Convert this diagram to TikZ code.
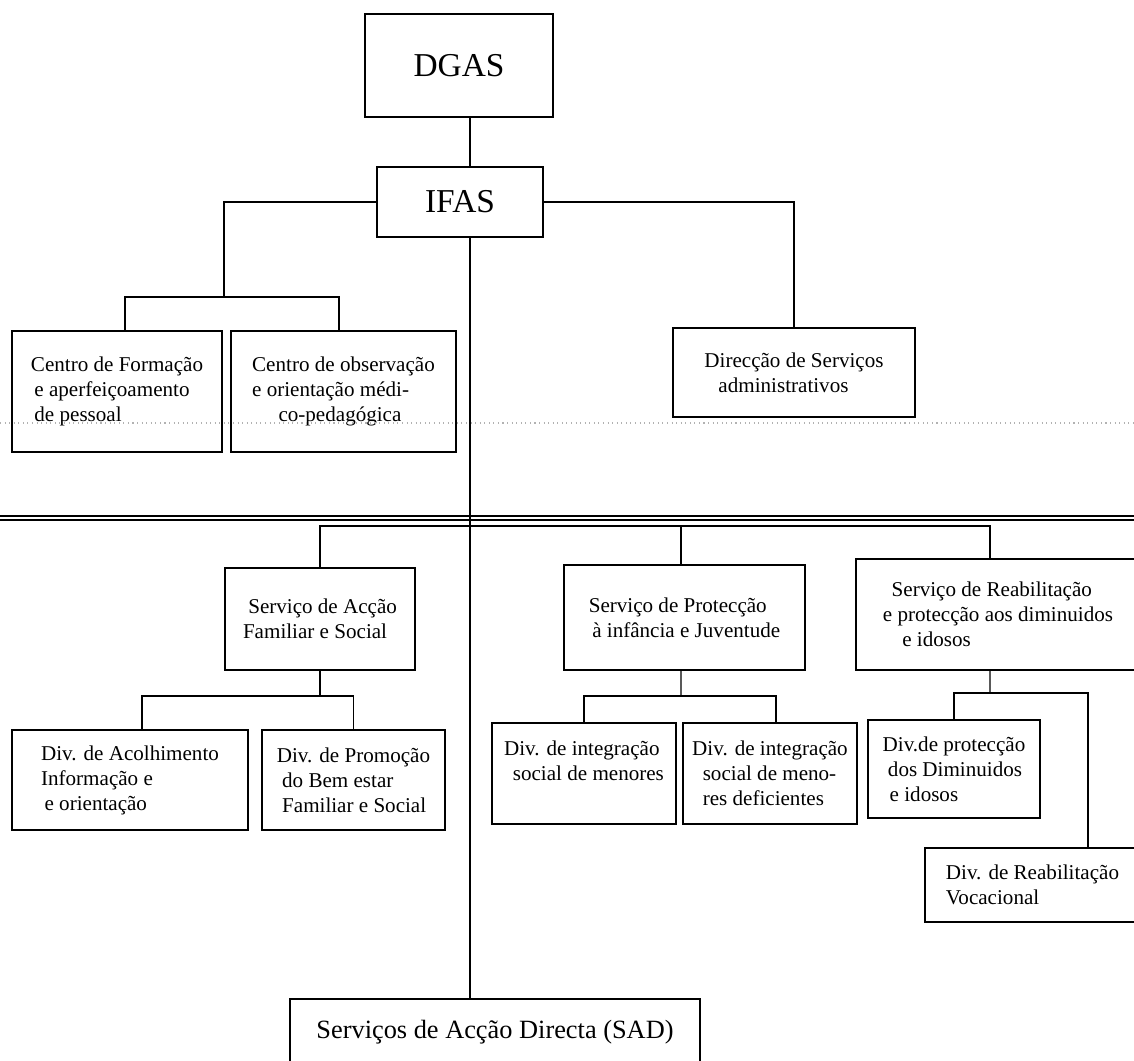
\documentclass[tikz,border=0pt]{standalone}
\usepackage{fontspec}
\setmainfont{Liberation Serif}
\begin{document}
\begin{tikzpicture}[x=0.02cm, y=-0.02cm,
    caixa/.style={draw, line width=0.9pt, align=left, inner sep=2pt, font=\fontsize{12}{14.2}\selectfont},
    ligacao/.style={line width=0.7pt}]
    \useasboundingbox (0,0) rectangle (1134,1061);

    % Topo
    \node[caixa, minimum width=3.76cm, minimum height=2.06cm, font=\fontsize{19}{22}\selectfont] (dgas) at (459,65.5) {DGAS};
    \node[caixa, minimum width=3.32cm, minimum height=1.4cm, font=\fontsize{19}{22}\selectfont] (ifas) at (460,202) {IFAS};
    \coordinate (eixo) at (470,0);

    % Centros e direccao
    \node[caixa, minimum width=4.2cm, minimum height=2.42cm] (cform) at (117,391.5)
        {Centro de Formação\\ \hspace{2pt}e aperfeiçoamento\\ \hspace{2pt}de pessoal};
    \node[caixa, minimum width=4.5cm, minimum height=2.42cm] (cobs) at (343.5,391.5)
        {Centro de observação\\ e orientação médi-\\ \hspace{15pt}co-pedagógica};
    \node[caixa, minimum width=4.84cm, minimum height=1.78cm] (dserv) at (794,372.5)
        {Direcção de Serviços\\ \hspace{8pt}administrativos};

    % Servicos
    \node[caixa, minimum width=3.8cm, minimum height=2.04cm] (saf) at (320,619)
        {\hspace{3pt}Serviço de Acção\\ Familiar e Social};
    \node[caixa, minimum width=4.82cm, minimum height=2.1cm] (spij) at (684.5,617.5)
        {Serviço de Protecção\\ \hspace{2pt}à infância e Juventude};
    \node[caixa, minimum width=5.68cm, minimum height=2.22cm] (sreab) at (998,614.5)
        {\hspace{5pt}Serviço de Reabilitação\\ e protecção aos diminuidos\\ \hspace{11pt}e idosos};

    % Divisoes
    \node[caixa, minimum width=4.72cm, minimum height=2cm] (dacol) at (130,780)
        {Div. de Acolhimento\\ Informação e\\ \hspace{2pt}e orientação};
    \node[caixa, minimum width=3.66cm, minimum height=2cm] (dprom) at (353.5,780)
        {Div. de Promoção\\ \hspace{3pt}do Bem estar\\ \hspace{3pt}Familiar e Social};
    \node[caixa, minimum width=3.68cm, minimum height=2.02cm] (dimen) at (584,773.5)
        {Div. de integração\\ \hspace{5pt}social de menores\\ \mbox{}};
    \node[caixa, minimum width=3.48cm, minimum height=2.02cm] (dideff) at (770,773.5)
        {Div. de integração\\ \hspace{6pt}social de meno-\\ \hspace{6pt}res deficientes};
    \node[caixa, minimum width=3.44cm, minimum height=1.96cm] (dprot) at (954,769)
        {Div.de protecção\\ \hspace{3pt}dos Diminuidos\\ \hspace{4pt}e idosos};
    \node[caixa, minimum width=4.3cm, minimum height=1.48cm] (dreab) at (1032.5,885)
        {Div. de Reabilitação\\ Vocacional};

    % SAD
    \node[caixa, minimum width=8.2cm, minimum height=1.32cm, font=\fontsize{15}{18}\selectfont] (sad) at (495,1032)
        {Serviços de Acção Directa (SAD)};

    % Linhas de separacao
    \draw[gray!60, dotted, line width=0.6pt] (0,423) -- (1134,423);
    \draw[line width=0.6pt] (0,516) -- (1134,516);
    \draw[line width=0.6pt] (0,520) -- (1134,520);

    % Ligacoes
    \coordinate (jCentros) at (224,297);
    \coordinate (jServ) at (470,526);
    \coordinate (jFam) at (320,696);
    \coordinate (jProt) at (681,696);
    \coordinate (jReab) at (990,693);
    \coordinate (cReab) at (1088,693);
    \draw[ligacao] (dgas.south -| eixo) -- (ifas.north -| eixo);
    \draw[ligacao] (ifas.south -| eixo) -- (sad.north -| eixo);
    \draw[ligacao] (ifas.west) -| (jCentros);
    \draw[ligacao] ([xshift=0.16cm]cform.north) |- (jCentros) -| ([xshift=-0.09cm]cobs.north);
    \draw[ligacao] (ifas.east) -| (dserv.north);
    \draw[ligacao] (saf.north) |- (jServ) -| ([xshift=-0.16cm]sreab.north);
    \draw[ligacao] ([xshift=-0.07cm]spij.north) -- ([xshift=-0.07cm]spij.north |- jServ);
    \draw[ligacao] (saf.south) -- (jFam);
    \draw[ligacao] ([xshift=0.24cm]dacol.north) |- (jFam) -| (dprom.north);
    \draw[ligacao] ([xshift=-0.07cm]spij.south) -- (jProt);
    \draw[ligacao] (dimen.north) |- (jProt) -| ([xshift=0.12cm]dideff.north);
    \draw[ligacao] ([xshift=-0.16cm]sreab.south) -- (jReab);
    \draw[ligacao] (dprot.north) |- (cReab) -- (cReab |- dreab.north);
\end{tikzpicture}
\end{document}
